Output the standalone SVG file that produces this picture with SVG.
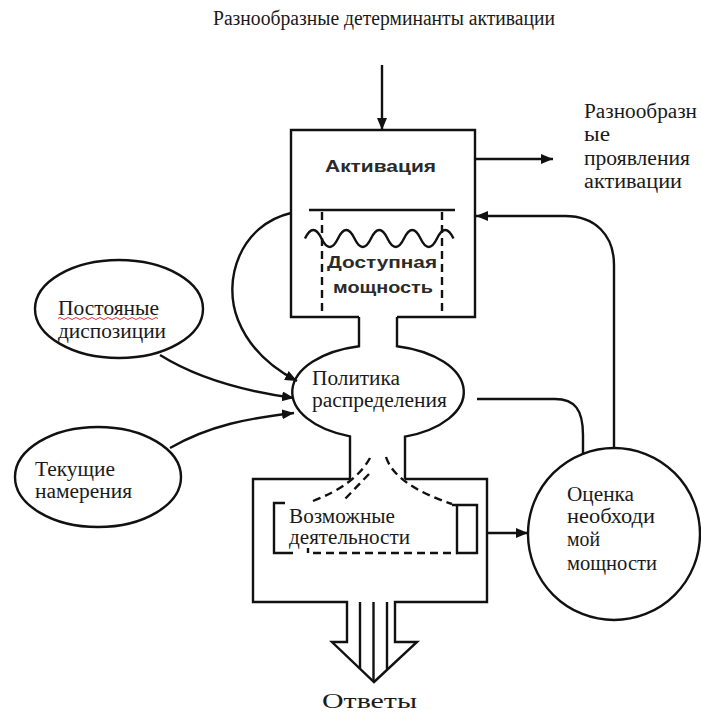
<svg xmlns="http://www.w3.org/2000/svg" width="701" height="713" viewBox="0 0 701 713">
<defs>
<style>
.ln{fill:none;stroke:#111;stroke-width:2.4;stroke-linejoin:miter}
.dash{fill:none;stroke:#111;stroke-width:2.4;stroke-dasharray:8 5}
.serif{font-family:"Liberation Serif","DejaVu Serif",serif;font-size:20px;fill:#1a1a1a}
.sans{font-family:"Liberation Sans","DejaVu Sans",sans-serif;font-size:17px;font-weight:bold;fill:#2a2a2a}
</style>
<marker id="ah" markerUnits="userSpaceOnUse" markerWidth="13" markerHeight="11" refX="12" refY="5" orient="auto">
<path d="M0,0 L12,5 L0,10 z" fill="#111"/>
</marker>
</defs>
<rect width="701" height="713" fill="#fff"/>

<g id="title">
<text class="serif" x="213" y="25" font-size="17" textLength="342" lengthAdjust="spacingAndGlyphs">Разнообразные детерминанты активации</text>
</g>

<g id="node-activation">
<path class="ln" d="M359,317 L291,317 L291,130 L475,130 L475,317 L397,317"/>
<text class="sans" x="325" y="172" textLength="111" lengthAdjust="spacingAndGlyphs">Активация</text>
<line class="ln" x1="309" y1="210" x2="455" y2="210"/>
<line class="dash" x1="322" y1="212" x2="322" y2="317"/>
<line class="dash" x1="442" y1="212" x2="442" y2="317"/>
<path class="ln" d="M305,238.5 q8.25,-17 16.5,0 t16.5,0 t16.5,0 t16.5,0 t16.5,0 t16.5,0 t16.5,0 t16.5,0 t16.5,0"/>
<text class="sans" x="327" y="268" textLength="110" lengthAdjust="spacingAndGlyphs">Доступная</text>
<text class="sans" x="333" y="293" textLength="100" lengthAdjust="spacingAndGlyphs">мощность</text>
</g>

<g id="label-manifestations">
<text class="serif" x="584" y="118" textLength="113" lengthAdjust="spacingAndGlyphs">Разнообразн</text>
<text class="serif" x="584" y="141" textLength="26" lengthAdjust="spacingAndGlyphs">ые</text>
<text class="serif" x="584" y="165" textLength="106" lengthAdjust="spacingAndGlyphs">проявления</text>
<text class="serif" x="584" y="188" textLength="98" lengthAdjust="spacingAndGlyphs">активации</text>
</g>

<g id="node-policy">
<path class="ln" d="M359,317 L359,346.2 A86,47 0 0 0 350,436.4 L350,479"/>
<path class="ln" d="M397,317 L397,346.2 A86,47 0 0 1 405,436.6 L405,479"/>
<text class="serif" x="312" y="385" textLength="88" lengthAdjust="spacingAndGlyphs">Политика</text>
<text class="serif" x="312" y="407" textLength="135" lengthAdjust="spacingAndGlyphs">распределения</text>
</g>

<g id="node-permanent">
<ellipse class="ln" cx="119" cy="309" rx="84" ry="49"/>
<text class="serif" x="58" y="315" textLength="101" lengthAdjust="spacingAndGlyphs">Постояные</text>
<path d="M58,318.5 q2,-2 4,0 t4,0 t4,0 t4,0 t4,0 t4,0 t4,0 t4,0 t4,0 t4,0 t4,0 t4,0 t4,0 t4,0 t4,0 t4,0 t4,0 t4,0 t4,0 t4,0 t4,0 t4,0 t4,0 t4,0 t4,0" fill="none" stroke="#d33" stroke-width="1"/>
<text class="serif" x="58" y="338" textLength="108" lengthAdjust="spacingAndGlyphs">диспозиции</text>
</g>

<g id="node-current">
<ellipse class="ln" cx="98" cy="477" rx="83" ry="50"/>
<text class="serif" x="35" y="476" textLength="80" lengthAdjust="spacingAndGlyphs">Текущие</text>
<text class="serif" x="35" y="498" textLength="97" lengthAdjust="spacingAndGlyphs">намерения</text>
</g>

<g id="node-activities">
<path class="ln" d="M350,479 L253,479 L253,602 L347,602 L347,642 L332,642 L374,682 L417,642 L395,642 L395,602 L487,602 L487,479 L405,479"/>
<line class="ln" x1="360" y1="602" x2="360" y2="669"/>
<line class="ln" x1="373.5" y1="602" x2="373.5" y2="681"/>
<line class="ln" x1="387" y1="602" x2="387" y2="670"/>
<path class="ln" d="M285,503 L274,503 L274,553 L293,553"/>
<path class="ln" d="M308,548 L308,553"/>
<line class="dash" x1="313" y1="553" x2="457" y2="553"/>
<path class="dash" d="M370,458 Q355,485 313,501"/>
<path class="dash" d="M369,474 L345,499"/>
<path class="dash" d="M386,457 Q395,485 452,504"/>
<path class="ln" d="M452,505 L477,505 L477,553 L457,553 L457,505"/>
<text class="serif" x="289" y="523" textLength="106" lengthAdjust="spacingAndGlyphs">Возможные</text>
<text class="serif" x="289" y="544" textLength="121" lengthAdjust="spacingAndGlyphs">деятельности</text>
<text class="serif" x="322" y="708" font-size="25" textLength="95" lengthAdjust="spacingAndGlyphs">Ответы</text>
</g>

<g id="node-assessment">
<circle class="ln" cx="614" cy="534" r="86"/>
<text class="serif" x="567" y="501" textLength="67" lengthAdjust="spacingAndGlyphs">Оценка</text>
<text class="serif" x="567" y="523" textLength="88" lengthAdjust="spacingAndGlyphs">необходи</text>
<text class="serif" x="567" y="546" textLength="33" lengthAdjust="spacingAndGlyphs">мой</text>
<text class="serif" x="567" y="570" textLength="90" lengthAdjust="spacingAndGlyphs">мощности</text>
</g>

<g id="connectors">
<line class="ln" x1="382" y1="65" x2="382" y2="130" marker-end="url(#ah)"/>
<line class="ln" x1="475" y1="159" x2="553" y2="159" marker-end="url(#ah)"/>
<path class="ln" d="M614,448 L614,265 C614,235 595,216 565,216 L476,216" marker-end="url(#ah)"/>
<path class="ln" d="M291,213 C240,225 222,280 238,320 C250,350 272,368 297,381" marker-end="url(#ah)"/>
<path class="ln" d="M160,355 C200,380 250,392 294,398" marker-end="url(#ah)"/>
<path class="ln" d="M170,448 C210,425 250,418 294,413" marker-end="url(#ah)"/>
<path class="ln" d="M477,399 L555,399 C575,399 583,410 583,435 L583,454"/>
<line class="ln" x1="487" y1="533" x2="528" y2="533" marker-end="url(#ah)"/>
</g>
</svg>
